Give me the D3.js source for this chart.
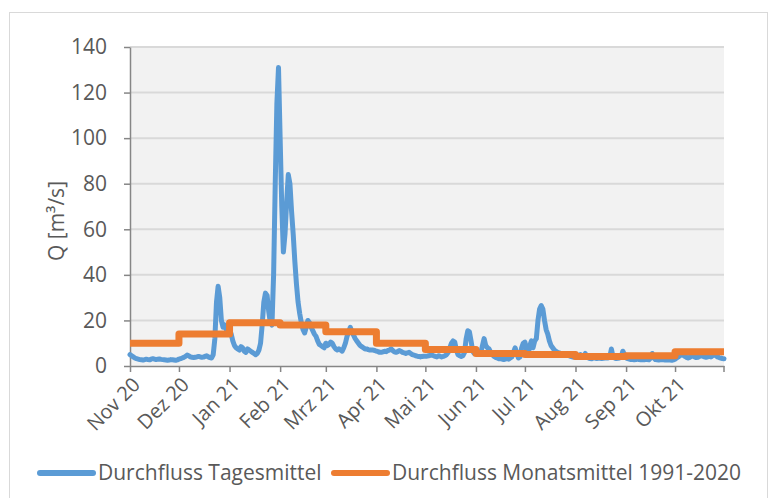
<!DOCTYPE html>
<html>
<head>
<meta charset="utf-8">
<script src="https://cdn.jsdelivr.net/npm/d3@7"></script>
<style>
body { margin: 0; background: #fff; }
svg text { font-family: "Open Sans", "Noto Sans", sans-serif; fill: #595959; }
</style>
</head>
<body>
<svg id="chart" width="771" height="498"></svg>
<script>
// tick labels, one per month start
var tickLabels = ["Nov 20", "Dez 20", "Jan 21", "Feb 21", "Mrz 21", "Apr 21",
                  "Mai 21", "Jun 21", "Jul 21", "Aug 21", "Sep 21", "Okt 21"];

// Durchfluss Monatsmittel 1991-2020, one value per month (Nov..Okt)
var monthlyMean = [10, 14, 19, 18, 15, 10, 7.2, 5.5, 5, 4.2, 4.5, 6.3];

// Durchfluss Tagesmittel, per month
var nov20 = [5, 4.5, 4, 3.5, 3.2, 3, 2.8, 2.7, 2.6, 2.8, 3, 2.8, 2.7, 3, 3.2, 3, 2.8, 3, 3.1, 2.9,
             2.8, 2.7, 2.6, 2.5, 2.6, 2.8, 2.7, 2.6, 2.5, 2.7];
var dez20 = [3, 3.2, 3.5, 3.8, 4.2, 4.8, 4.5, 4, 3.8, 3.7, 3.8, 4, 4.2, 4, 3.8, 3.9, 4.2, 4.5, 4, 3.7,
             3.5, 5, 12, 28, 35, 30, 20, 17, 18, 16, 17];
var jan21 = [16, 14, 11, 9, 8, 7.5, 7, 8.5, 8, 6.5, 6, 7.5, 7, 6.5, 6, 5.5, 5, 5.5, 7, 10,
             18, 28, 32, 31, 24, 19, 18, 40, 80, 115, 131];
var feb21 = [100, 70, 50, 58, 72, 84, 80, 68, 58, 46, 36, 28, 23, 19, 16, 14.5, 17, 20, 19, 17,
             15.5, 14, 13, 11, 9.5, 9, 8.5, 8];
var mrz21 = [10, 9, 9.5, 10.5, 10, 8.5, 7.5, 7, 7.5, 7, 6.5, 8, 10, 13, 15, 17, 15, 13.5, 12, 11,
             10, 9, 8.5, 8, 7.5, 7.5, 7.2, 7, 7, 7, 6.8];
var apr21 = [6.5, 6.3, 6, 6, 6.2, 6.5, 6.3, 6.8, 7, 7.5, 6.8, 6.2, 6, 6.3, 6.8, 6.5, 6, 5.8, 5.5, 5.8,
             6, 5.5, 5, 4.8, 4.5, 4.3, 4.2, 4, 4.2, 4.3];
var mai21 = [4.3, 4.3, 4.5, 4.7, 4.8, 4.5, 4.2, 4, 4.5, 4.3, 4, 4.2, 4.5, 5, 6, 8, 10, 11, 10.5, 7,
             5, 4.5, 4.2, 4.5, 6, 12, 15.5, 15, 11, 6.5, 5.5];
var jun21 = [5.5, 5.2, 5.5, 6, 9, 12, 9, 8, 7.5, 6, 5, 4.2, 3.8, 3.5, 3.2, 3.2, 3, 2.8, 3, 3.2,
             3, 3.5, 4, 6, 8, 5.5, 3.5, 4, 8, 10];
var jul21 = [10.5, 7, 5, 9, 11, 8, 11, 12, 20, 25, 26.5, 25, 20, 16, 14, 11, 9, 8, 7, 6.5,
             6, 5.8, 5.5, 5.5, 5.2, 5, 4.8, 4.5, 4.2, 4, 4];
var aug21 = [3.8, 4, 4.5, 5, 4.5, 4, 5.5, 4, 3.5, 3.3, 3.2, 3.5, 3.5, 3.3, 3.4, 3.5, 3.3, 3.4, 3.5, 3.6,
             3.5, 4, 7.5, 4, 3.5, 3.3, 3.4, 3.5, 4, 6.5, 5];
var sep21 = [3.5, 3.2, 3, 2.8, 2.8, 2.7, 2.8, 3, 2.8, 2.7, 2.8, 2.7, 3, 2.8, 2.7, 3.5, 5.5, 3.5, 2.8, 2.7,
             2.6, 2.7, 2.8, 2.7, 2.6, 2.6, 2.7, 2.6, 2.5, 2.7];
var okt21 = [3, 3.5, 4, 4.5, 5, 4.7, 4.2, 3.8, 3.5, 3.8, 4.2, 4.5, 4, 3.7, 3.8, 4.2, 4.5, 4.3, 4, 3.8,
             4, 4.2, 4, 4.5, 5, 4.5, 4, 3.7, 3.5, 3.3, 3.2];

var dailyFlow = [].concat(nov20, dez20, jan21, feb21, mrz21, apr21, mai21, jun21, jul21, aug21, sep21, okt21);

var yTicks = [0, 20, 40, 60, 80, 100, 120, 140];

var startDate = Date.UTC(2020, 10, 1);
var endDate = Date.UTC(2021, 9, 31);
var dayMs = 86400000;

var svg = d3.select("#chart");

// chart frame
svg.append("rect")
    .attr("x", 9.5).attr("y", 12.5)
    .attr("width", 758).attr("height", 500)
    .attr("fill", "#fff")
    .attr("stroke", "#d9d9d9");

var plot = { left: 130, right: 724, top: 47, bottom: 366 };

var x = d3.scaleUtc()
    .domain([new Date(startDate), new Date(endDate)])
    .range([plot.left, plot.right]);

var y = d3.scaleLinear()
    .domain([0, 140])
    .range([plot.bottom, plot.top]);

svg.append("rect")
    .attr("x", plot.left).attr("y", plot.top)
    .attr("width", plot.right - plot.left).attr("height", plot.bottom - plot.top)
    .attr("fill", "#f2f2f2");

// gridlines
svg.append("g")
    .selectAll("line")
    .data(yTicks.filter(function (d) { return d > 0; }))
    .enter().append("line")
    .attr("x1", plot.left).attr("x2", plot.right)
    .attr("y1", function (d) { return y(d); })
    .attr("y2", function (d) { return y(d); })
    .attr("stroke", "#d9d9d9")
    .attr("stroke-width", 2);

var monthStarts = d3.utcMonth.range(new Date(startDate), new Date(Date.UTC(2021, 10, 1)));

// x axis
var xAxis = svg.append("g")
    .attr("transform", "translate(0," + plot.bottom + ")")
    .call(d3.axisBottom(x)
        .tickValues(monthStarts)
        .tickFormat(function (d, i) { return tickLabels[i]; })
        .tickSize(6)
        .tickSizeOuter(0));
xAxis.select(".domain").attr("stroke", "#868686").attr("stroke-width", 1.5);
xAxis.selectAll(".tick line").attr("stroke", "#868686").attr("stroke-width", 1.5);
xAxis.selectAll(".tick text")
    .attr("x", 0).attr("y", 0).attr("dy", "0.35em")
    .attr("text-anchor", "end")
    .attr("transform", "translate(6,15) rotate(-45)")
    .style("font-size", "20px")
    .style("fill", "#595959");
// closing tick at the right end
xAxis.append("line")
    .attr("x1", plot.right).attr("x2", plot.right)
    .attr("y1", 0).attr("y2", 6)
    .attr("stroke", "#868686").attr("stroke-width", 1.5);

// y axis
var yAxis = svg.append("g")
    .attr("transform", "translate(" + plot.left + ",0)")
    .call(d3.axisLeft(y).tickValues(yTicks).tickSize(6).tickSizeOuter(0));
yAxis.select(".domain").attr("stroke", "#868686").attr("stroke-width", 1.5);
yAxis.selectAll(".tick line").attr("stroke", "#868686").attr("stroke-width", 1.5);
yAxis.selectAll(".tick text")
    .attr("x", -23)
    .style("font-size", "21px")
    .style("fill", "#595959");
svg.selectAll(".tick text").attr("font-family", null);

svg.append("text")
    .attr("transform", "translate(64,221) rotate(-90)")
    .attr("text-anchor", "middle")
    .style("font-size", "21px")
    .text("Q [m³/s]");

// daily series
var dailyLine = d3.line()
    .x(function (d, i) { return x(new Date(startDate + i * dayMs)); })
    .y(function (d) { return y(d); });

svg.append("path")
    .datum(dailyFlow)
    .attr("d", dailyLine)
    .attr("fill", "none")
    .attr("stroke", "#5b9bd5")
    .attr("stroke-width", 5)
    .attr("stroke-linejoin", "round")
    .attr("stroke-linecap", "round");

// monthly mean as steps
var stepPoints = monthStarts.map(function (m, i) { return [m, monthlyMean[i]]; });
stepPoints.push([new Date(endDate), monthlyMean[monthlyMean.length - 1]]);

var stepLine = d3.line()
    .x(function (d) { return x(d[0]); })
    .y(function (d) { return y(d[1]); })
    .curve(d3.curveStepAfter);

svg.append("path")
    .datum(stepPoints)
    .attr("d", stepLine)
    .attr("fill", "none")
    .attr("stroke", "#ed7d31")
    .attr("stroke-width", 7)
    .attr("stroke-linejoin", "round");

// legend
var legendItems = [
    { label: "Durchfluss Tagesmittel", color: "#5b9bd5", x: 40 },
    { label: "Durchfluss Monatsmittel 1991-2020", color: "#ed7d31", x: 334 }
];
var legend = svg.append("g").selectAll("g")
    .data(legendItems)
    .enter().append("g")
    .attr("transform", function (d) { return "translate(" + d.x + ",473)"; });
legend.append("line")
    .attr("x1", 0).attr("x2", 53)
    .attr("stroke", function (d) { return d.color; })
    .attr("stroke-width", 6)
    .attr("stroke-linecap", "round");
legend.append("text")
    .attr("x", 58)
    .attr("dy", "0.35em")
    .style("font-size", "21px")
    .text(function (d) { return d.label; });
</script>
</body>
</html>
